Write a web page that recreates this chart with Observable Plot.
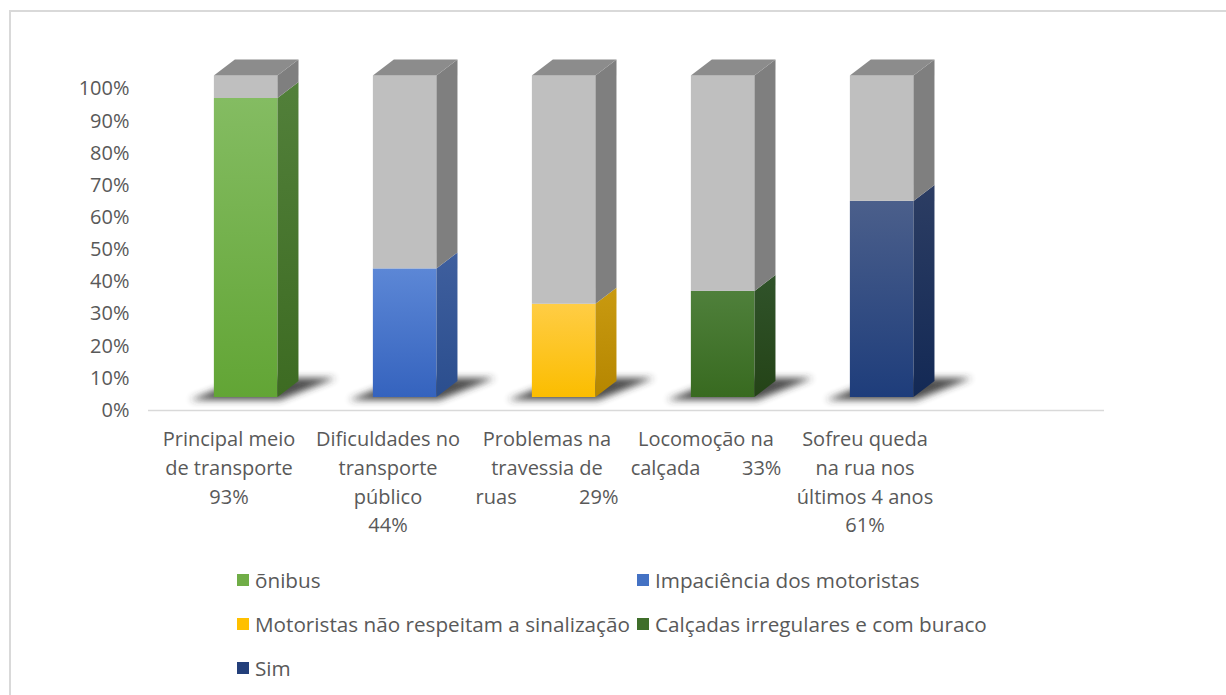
<!DOCTYPE html>
<html>
<head>
<meta charset="utf-8">
<script src="https://cdn.jsdelivr.net/npm/d3@7"></script>
<script src="https://cdn.jsdelivr.net/npm/@observablehq/plot@0.6"></script>
<style>
  html, body { margin: 0; padding: 0; background: #fff; overflow: hidden; }
  #wrap { position: relative; width: 1226px; height: 695px; font-family: "Open Sans", sans-serif; color: #595959; }
  #border { position: absolute; left: 9px; top: 10px; width: 1240px; height: 720px; border-left: 2px solid #d9d9d9; border-top: 2px solid #d9d9d9; box-sizing: border-box; }
  #chart { position: absolute; left: 0; top: 0; }
  #legend { position: absolute; left: 237px; top: 558px; display: grid; grid-template-columns: 400px 400px; grid-auto-rows: 44px; }
  .item { display: flex; align-items: center; font-size: 20.7px; white-space: nowrap; }
  .sw { width: 12px; height: 12px; margin-right: 6px; flex: none; }
</style>
</head>
<body>
<div id="wrap">
  <div id="border"></div>
  <div id="chart"></div>
  <div id="legend"></div>
</div>
<script>
// ---- data ----
const categories = [
  "Principal meio de transporte",
  "Dificuldades no transporte público",
  "Problemas na travessia de ruas",
  "Locomoção na calçada",
  "Sofreu queda na rua nos últimos 4 anos"
];
const tickLabels = [
  "Principal meio\nde transporte\n93%",
  "Dificuldades no\ntransporte\npúblico\n44%",
  "Problemas na\ntravessia de\nruas\u00a0\u00a0\u00a0\u00a0\u00a0\u00a0\u00a0\u00a0\u00a0\u00a0\u00a0\u00a029%",
  "Locomoção na\ncalçada\u00a0\u00a0\u00a0\u00a0\u00a0\u00a0\u00a0\u00a033%",
  "Sofreu queda\nna rua nos\núltimos 4 anos\n61%"
];
const seriesNames = [
  "õnibus",
  "Impaciência dos motoristas",
  "Motoristas não respeitam a sinalização",
  "Calçadas irregulares e com buraco",
  "Sim"
];
const values = [93, 40, 29, 33, 61];
const yTicks = [0, 10, 20, 30, 40, 50, 60, 70, 80, 90, 100];

// ---- styles ----
const legendColors = ["#70ad47", "#4472c4", "#ffc000", "#3f6e2a", "#233f7a"];
const faceStyles = [
  { front: ["#84bc62", "#62a535"], side: ["#52803a", "#3d6b22"] },
  { front: ["#5c87d6", "#3563be"], side: ["#3f5f9e", "#2b4e8e"] },
  { front: ["#ffcd45", "#fbbd00"], side: ["#c99a10", "#b58600"] },
  { front: ["#4f803b", "#386a20"], side: ["#30532a", "#244317"] },
  { front: ["#4b5f8b", "#1e3d7b"], side: ["#2c3d63", "#132955"] }
];
const greyFront = "#bfbfbf", greySide = "#7f7f7f", greyTop = "#8c8c8c";
const DX = 21, DY = -16, LIFT = -13;

const domainX = [...categories, " "];

function bars3d(...args) {
  const s = args.find(a => a && typeof a.x === "function" && typeof a.y === "function");
  const x = s.x, y = s.y;
  const bw = x(domainX[1]) - x(domainX[0]);
  const g = d3.create("svg:g");
  const defs = g.append("defs");
  const grad = (id, [c0, c1]) => {
    const lg = defs.append("linearGradient").attr("id", id)
      .attr("x1", 0).attr("y1", 0).attr("x2", 0).attr("y2", 1);
    lg.append("stop").attr("offset", "0%").attr("stop-color", c0);
    lg.append("stop").attr("offset", "100%").attr("stop-color", c1);
  };
  faceStyles.forEach((st, i) => { grad("gf" + i, st.front); grad("gs" + i, st.side); });
  defs.append("filter").attr("id", "shadowBlur")
    .attr("x", "-50%").attr("y", "-100%").attr("width", "200%").attr("height", "300%")
    .append("feGaussianBlur").attr("stdDeviation", 3.5);

  // shadows
  categories.forEach((c, i) => {
    const fx = x(c) + bw * 0.408, by = y(0) + LIFT;
    const pts = [[fx - 24, by + 3], [fx + 66, by + 3], [fx + 122, by - 19], [fx + 32, by - 19]];
    g.append("polygon").attr("points", pts.map(p => p.join(",")).join(" "))
      .attr("fill", "#2e2e2e").attr("opacity", 0.85).attr("filter", "url(#shadowBlur)");
  });

  // bars
  categories.forEach((c, i) => {
    const fx0 = x(c) + bw * 0.408, fx1 = fx0 + bw * 0.40;
    const segs = [
      { v0: 0, v1: values[i], front: `url(#gf${i})`, side: `url(#gs${i})` },
      { v0: values[i], v1: 100, front: greyFront, side: greySide }
    ];
    segs.forEach(sg => {
      const ya = y(sg.v0) + LIFT, yb = y(sg.v1) + LIFT;
      g.append("rect").attr("x", fx0).attr("y", yb).attr("width", fx1 - fx0).attr("height", ya - yb)
        .attr("fill", sg.front);
      g.append("polygon").attr("points",
        [[fx1, ya], [fx1 + DX, ya + DY], [fx1 + DX, yb + DY], [fx1, yb]].map(p => p.join(",")).join(" "))
        .attr("fill", sg.side);
    });
    const yt = y(100) + LIFT;
    g.append("polygon").attr("points",
      [[fx0, yt], [fx1, yt], [fx1 + DX, yt + DY], [fx0 + DX, yt + DY]].map(p => p.join(",")).join(" "))
      .attr("fill", greyTop);
  });
  return g.node();
}

const chart = Plot.plot({
  width: 1226,
  height: 550,
  marginLeft: 148,
  marginRight: 122,
  marginTop: 88.5,
  marginBottom: 140,
  x: { type: "band", domain: domainX, padding: 0, axis: null },
  y: { domain: [0, 100] },
  style: { fontFamily: "'Open Sans', sans-serif", color: "#595959", background: "transparent", overflow: "visible" },
  marks: [
    Plot.ruleY([0], { stroke: "#d9d9d9", strokeWidth: 1.5 }),
    Plot.axisY({ ticks: yTicks, tickSize: 0, tickPadding: 19, tickFormat: d => d + "%", fontSize: 20, label: null }),
    bars3d,
    Plot.text(categories, {
      x: d => d, y: () => 0,
      text: (d, i) => tickLabels[i],
      lineAnchor: "top", lineHeight: 1.44, dy: 15, fontSize: 20, fill: "#595959"
    })
  ]
});
document.getElementById("chart").appendChild(chart);

const legend = d3.select("#legend");
seriesNames.forEach((name, i) => {
  const it = legend.append("div").attr("class", "item");
  it.append("div").attr("class", "sw").style("background", legendColors[i]);
  it.append("span").text(name);
});
</script>
</body>
</html>
